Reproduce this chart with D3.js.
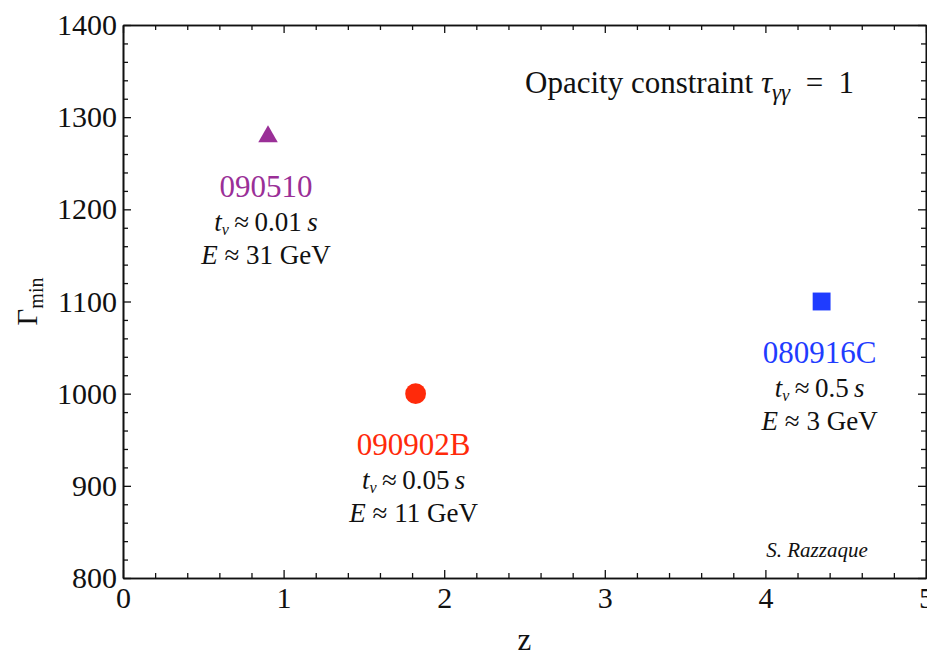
<!DOCTYPE html>
<html>
<head>
<meta charset="utf-8">
<script src="https://cdn.jsdelivr.net/npm/d3@7"></script>
<style>
  html, body { margin: 0; padding: 0; background: #fff; }
  svg { display: block; }
  text { font-family: "Liberation Serif", "DejaVu Serif", serif; }
</style>
</head>
<body>
<svg id="chart" width="927" height="657"></svg>
<script>
// Gamma-ray bursts: redshift vs. minimum bulk Lorentz factor
const bursts   = ["090510", "090902B", "080916C"];
const redshift = [0.903, 1.822, 4.35];
const gammaMin = [1280, 1000, 1100];
const tVar     = ["0.01", "0.05", "0.5"];
const energy   = ["31", "11", "3"];
const colors   = ["#9a2f97", "#ff2a0a", "#1f3cff"];
const shapes   = ["triangle", "circle", "square"];

const xTicks = [0, 1, 2, 3, 4, 5];
const yTicks = [800, 900, 1000, 1100, 1200, 1300, 1400];

const W = 927, H = 657;
const m = { left: 123, right: 1, top: 25, bottom: 79 };

const svg = d3.select("#chart");
const x = d3.scaleLinear().domain([0, 5]).range([m.left, W - m.right]);
const y = d3.scaleLinear().domain([800, 1400]).range([H - m.bottom, m.top]);

const xMinor = d3.range(0, 5.0001, 0.2).map(v => +v.toFixed(1)).filter(v => !xTicks.includes(v));
const yMinor = d3.range(800, 1401, 20).filter(v => !yTicks.includes(v));

function styleAxis(g) {
  g.selectAll("path.domain").attr("stroke", "#111").attr("stroke-width", 1.6);
  g.selectAll(".tick line").attr("stroke", "#111").attr("stroke-width", 1.3);
  g.selectAll(".tick text").attr("fill", "#111")
    .style("font-family", "'Liberation Serif', serif").style("font-size", "30px");
}

// bottom axis with labels
svg.append("g").attr("transform", `translate(0,${y(800)})`)
  .call(d3.axisBottom(x).tickValues(xTicks).tickFormat(d3.format("d"))
    .tickSize(-8).tickSizeOuter(0).tickPadding(9))
  .call(styleAxis);
svg.append("g").attr("transform", `translate(0,${y(800)})`)
  .call(d3.axisBottom(x).tickValues(xMinor).tickFormat("").tickSize(-5).tickSizeOuter(0))
  .call(styleAxis);

// left axis with labels
svg.append("g").attr("transform", `translate(${x(0)},0)`)
  .call(d3.axisLeft(y).tickValues(yTicks).tickFormat(d3.format("d"))
    .tickSize(-8).tickSizeOuter(0).tickPadding(6))
  .call(styleAxis);
svg.append("g").attr("transform", `translate(${x(0)},0)`)
  .call(d3.axisLeft(y).tickValues(yMinor).tickFormat("").tickSize(-5).tickSizeOuter(0))
  .call(styleAxis);

// top and right frame, ticks only
svg.append("g").attr("transform", `translate(0,${y(1400)})`)
  .call(d3.axisTop(x).tickValues(xTicks).tickFormat("").tickSize(-8).tickSizeOuter(0))
  .call(styleAxis);
svg.append("g").attr("transform", `translate(0,${y(1400)})`)
  .call(d3.axisTop(x).tickValues(xMinor).tickFormat("").tickSize(-5).tickSizeOuter(0))
  .call(styleAxis);
svg.append("g").attr("transform", `translate(${x(5)},0)`)
  .call(d3.axisRight(y).tickValues(yTicks).tickFormat("").tickSize(-8).tickSizeOuter(0))
  .call(styleAxis);
svg.append("g").attr("transform", `translate(${x(5)},0)`)
  .call(d3.axisRight(y).tickValues(yMinor).tickFormat("").tickSize(-5).tickSizeOuter(0))
  .call(styleAxis);

// axis titles
svg.append("text").attr("x", (x(0) + x(5)) / 2).attr("y", 650)
  .attr("text-anchor", "middle").style("font-size", "31px").attr("fill", "#111").text("z");

const yTitle = svg.append("text")
  .attr("transform", `translate(37,${(y(800) + y(1400)) / 2}) rotate(-90)`)
  .attr("text-anchor", "middle").attr("fill", "#111").style("font-size", "29px");
yTitle.append("tspan").text("Γ");
yTitle.append("tspan").attr("dy", 6).style("font-size", "20px").text("min");

// markers
const symbolType = { triangle: d3.symbolTriangle, circle: d3.symbolCircle, square: d3.symbolSquare };
const symbolSize = { triangle: 165, circle: 340, square: 320 };

const pts = bursts.map((b, i) => ({ b, z: redshift[i], g: gammaMin[i], c: colors[i], s: shapes[i], t: tVar[i], e: energy[i] }));

svg.append("g").selectAll("path").data(pts).join("path")
  .attr("transform", d => `translate(${x(d.z)},${y(d.g) + (d.s === "triangle" ? 1 : 0)})`)
  .attr("d", d => d3.symbol(symbolType[d.s], symbolSize[d.s])())
  .attr("fill", d => d.c);

// annotations beneath each marker
const ann = svg.append("g").selectAll("g").data(pts).join("g")
  .attr("transform", d => `translate(${x(d.z) - 2},${y(d.g)})`);

ann.append("text").attr("y", 61).attr("text-anchor", "middle")
  .attr("fill", d => d.c).style("font-size", "31px").text(d => d.b);

const tv = ann.append("text").attr("y", 95).attr("text-anchor", "middle")
  .attr("fill", "#111").style("font-size", "27px");
tv.append("tspan").style("font-style", "italic").text("t");
tv.append("tspan").style("font-style", "italic").style("font-size", "16px").attr("dy", 4).text("ν");
tv.append("tspan").attr("dy", -4).text(d => "\u2009≈\u2009" + d.t + "\u2009");
tv.append("tspan").style("font-style", "italic").text("s");

const en = ann.append("text").attr("y", 128).attr("text-anchor", "middle")
  .attr("fill", "#111").style("font-size", "27px");
en.append("tspan").style("font-style", "italic").text("E");
en.append("tspan").text(d => " ≈ " + d.e + " GeV");

// legend-style note in the upper right
const note = svg.append("text").attr("x", 525).attr("y", 93)
  .attr("fill", "#111").style("font-size", "31px");
note.append("tspan").text("Opacity constraint ");
note.append("tspan").style("font-style", "italic").text("τ");
note.append("tspan").style("font-style", "italic").style("font-size", "23px").attr("dy", 7).text("γγ");
note.append("tspan").attr("dy", -7).text("\u2002=\u20021");

// author credit
svg.append("text").attr("x", 817).attr("y", 557).attr("text-anchor", "middle")
  .attr("fill", "#111").style("font-style", "italic").style("font-size", "21px").text("S. Razzaque");
</script>
</body>
</html>
